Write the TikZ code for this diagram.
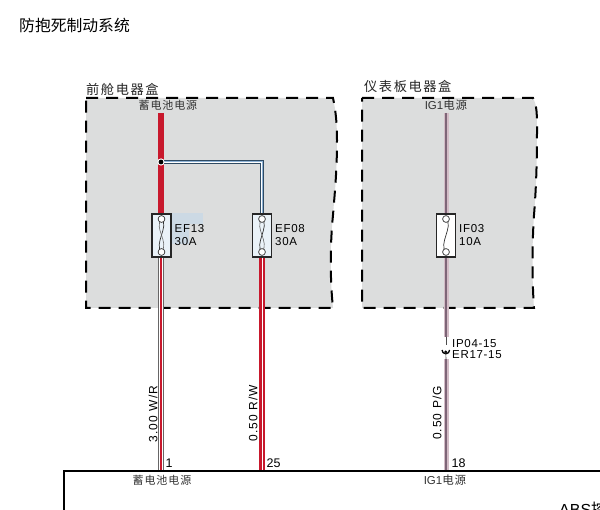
\documentclass[tikz,border=0pt]{standalone}
\usepackage{fontspec}
\setmainfont{Liberation Sans}
\newfontfamily\cjk{Noto Sans CJK SC}
\newfontfamily\cjkw[LetterSpace=8]{Noto Sans CJK SC}
\newfontfamily\cjkb[LetterSpace=12]{Noto Sans CJK SC}
\newfontfamily\lat[LetterSpace=6]{Liberation Sans}
\newfontfamily\latw[LetterSpace=9]{Liberation Sans}
\definecolor{boxgray}{HTML}{DCDDDD}
\definecolor{wred}{HTML}{C8182C}
\definecolor{wpink}{HTML}{D3BCC6}
\definecolor{wplum}{HTML}{7E6577}
\definecolor{wblue}{HTML}{8FB3D6}
\definecolor{wnavy}{HTML}{2F4A63}
\definecolor{fusefill}{HTML}{EAF2F8}
\definecolor{ghost}{HTML}{C6D8E8}
\tikzset{
  x=1pt,y=-1pt,
  elbox/.style={draw=black,fill=boxgray,line width=2pt,dash pattern=on 12pt off 8pt},
  fusebox/.style={draw=black!85,line width=1.3pt,fill=fusefill},
  fusecirc/.style={draw=black!80,line width=.7pt,fill=white},
  lbl/.style={inner sep=0pt,font=\lat\fontsize{11.5}{12}\selectfont,anchor=west},
  rot/.style={inner sep=0pt,rotate=90,font=\latw\fontsize{12}{13}\selectfont},
  pinnum/.style={inner sep=0pt,font=\fontsize{12.5}{13}\selectfont,anchor=west},
  cn/.style={inner sep=0pt,font=\cjkw\fontsize{11}{12}\selectfont,text=black!80},
  cnbig/.style={inner sep=0pt,font=\cjkb\fontsize{13.2}{14}\selectfont,anchor=west,text=black!85},
  frame/.style={line width=2.4pt,draw=black}
}
\newcommand{\fusewire}[2]{% x, doubled
  \draw[black!80,line width=.7pt] (#1,219) .. controls (#1+8,226) and (#1-8,244) .. (#1,252);
  \ifnum#2=1 \draw[black!60,line width=.6pt] (#1,219) .. controls (#1-8,228) and (#1+8,242) .. (#1,252);\fi
  \draw[fusecirc] (#1,219) circle (3.4);
  \draw[fusecirc] (#1,252) circle (3.4);
}
\begin{document}
\begin{tikzpicture}
\useasboundingbox (0,0) rectangle (600,510);
\clip (0,0) rectangle (600,510);
\fill[white] (0,0) rectangle (600,510);
% title
\node[inner sep=0pt,anchor=west,font=\cjk\fontsize{15.8}{16}\selectfont] (title) at (19,25) {防抱死制动系统};
% electrical boxes
\path[elbox] (86,98) -- (333,98) .. controls (336,112) and (337,125) .. (337,140) .. controls (337,170) and (335,190) .. (333,215) .. controls (330,245) and (330,280) .. (333,308) -- (86,308) -- cycle;
\path[elbox] (362,98) -- (533,98) .. controls (537,105) and (537,115) .. (537,130) .. controls (537,165) and (536,190) .. (534,215) .. controls (532,245) and (532,280) .. (534,308) -- (362,308) -- cycle;
\fill[ghost,opacity=.7] (171,213) rectangle (203,224);
\fill[ghost,opacity=.7] (171,224) rectangle (189,244);
\node[cnbig] (box1) at (86,89) {前舱电器盒};
\node[cnbig] (box2) at (364,86) {仪表板电器盒};
\node[cn] (src1) at (168,105) {蓄电池电源};
\node[inner sep=0pt,font=\fontsize{11.5}{12}\selectfont,text=black!80] (src2) at (446,105) {IG1{\cjkw 电源}};
% fuses (nodes)
\node[fusebox,minimum width=19pt,minimum height=43pt,inner sep=0pt] (f1) at (161.5,235.5) {};
\node[fusebox,minimum width=19pt,minimum height=43pt,inner sep=0pt] (f2) at (262,235.5) {};
\node[fusebox,minimum width=19pt,minimum height=43pt,inner sep=0pt,fill=white] (f3) at (446,235.5) {};
% wires
\coordinate (s1) at (161,113);
\coordinate (j1) at (161,162);
\coordinate (c1) at (262,162);
\coordinate (e1) at (161,471);
\coordinate (e2) at (262,471);
\coordinate (s3) at (446,113);
\coordinate (e3) at (446,471);
\coordinate (g1) at (446,337);
\coordinate (g2) at (446,359);
% thick red
\draw[wred,line width=5.4pt] (s1) -- (f1.north -| s1);
% blue branch
\draw[wnavy,line width=4.4pt] (j1) -- (c1) -- (f2.north);
\draw[white,line width=2.8pt] (j1) -- (c1) -- (f2.north);
\draw[wblue,line width=1pt] (j1) -- (c1) -- (f2.north);
% red/white lower wires
\draw[black!60,line width=5.4pt] (f1.south -| e1) -- (e1);
\draw[white,line width=4pt] (f1.south -| e1) -- (e1);
\draw[wred,line width=2.2pt] ([xshift=-.3pt]f1.south -| e1) -- ([xshift=-.3pt]e1);
\draw[wred,line width=5.4pt] (f2.south) -- (e2);
\draw[white,line width=1pt] (f2.south) -- (e2);
% pink wires
\foreach \a/\b in {s3/f3.north,f3.south/g1,g2/e3}{
  \draw[wpink,line width=5pt] (\a) -- (\b);
  \draw[wplum,line width=2.2pt] (\a) -- (\b);
}
% junction
\fill[white] (j1) circle (3.6);
\fill[black] (j1) circle (2.4);
% fuse internals
\fusewire{161.5}{1}
\fusewire{262}{1}
\fusewire{446}{0}
% inline connector
\draw[black!70,line width=.6pt] (g1) -- (446,345);
\draw[black,line width=1.3pt] (442,350) arc (180:0:3.8);
\fill[black] (445.8,352) circle (1.6);
\draw[black!70,line width=.6pt] (445.8,352) -- (g2);
\node[lbl] (c31) at (452,344) {IP04-15};
\node[lbl] (c32) at (452,355) {ER17-15};
% fuse labels
\node[lbl] (l1a) at (174.5,229) {EF13};
\node[lbl] (l1b) at (174.5,242) {30A};
\node[lbl] (l2a) at (275,229) {EF08};
\node[lbl] (l2b) at (275,242) {30A};
\node[lbl] (l3a) at (459,229) {IF03};
\node[lbl] (l3b) at (459,242) {10A};
% wire labels
\node[rot] (w1) at (153,414) {3.00 W/R};
\node[rot] (w2) at (253,413) {0.50 R/W};
\node[rot] (w3) at (437,413) {0.50 P/G};
% frame
\draw[frame] (64,510) -- (64,471) -- (600,471);
\node[pinnum] (p1) at (165.5,463.5) {1};
\node[pinnum] (p2) at (266.5,463.5) {25};
\node[pinnum] (p3) at (451.5,463.5) {18};
\node[cn] (t1) at (162,480) {蓄电池电源};
\node[inner sep=0pt,font=\fontsize{11.5}{12}\selectfont,text=black!80] (t2) at (445,480) {IG1{\cjkw 电源}};
\node[inner sep=0pt,anchor=base west,font=\fontsize{16}{17}\selectfont] (abs) at (559,515.5) {ABS{\cjk 控}};
\end{tikzpicture}
\end{document}
